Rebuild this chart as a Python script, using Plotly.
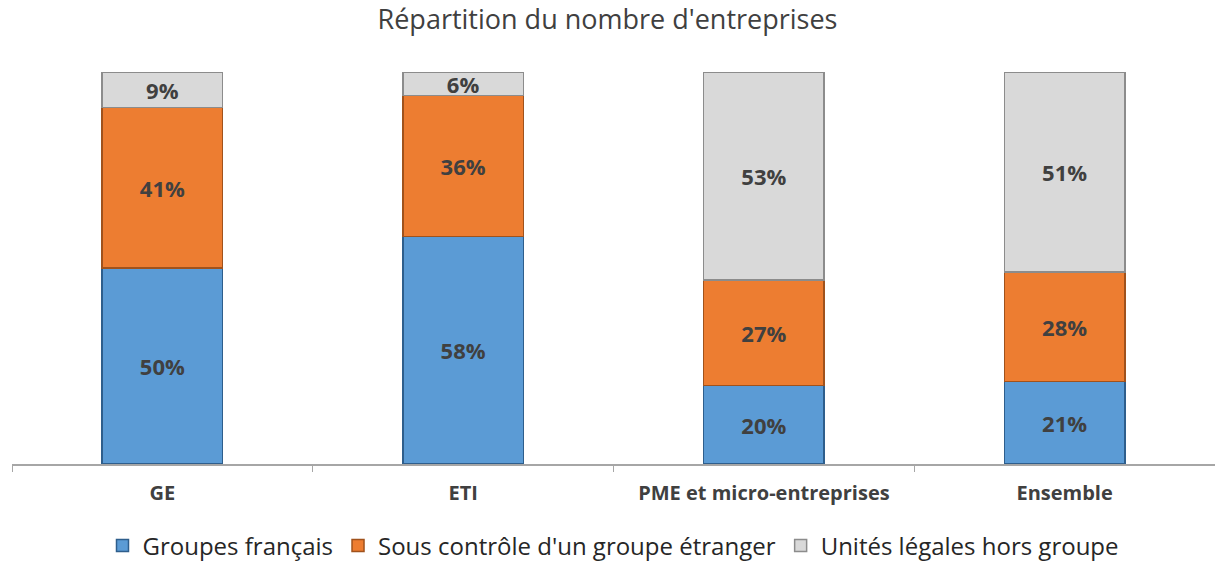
import plotly.graph_objects as go

categories = ["GE", "ETI", "PME et micro-entreprises", "Ensemble"]
series_names = ["Groupes français", "Sous contrôle d'un groupe étranger", "Unités légales hors groupe"]
groupes_francais = [50, 58, 20, 21]
controle_etranger = [41, 36, 27, 28]
hors_groupe = [9, 6, 53, 51]

fills = ["#5B9BD5", "#ED7D31", "#D9D9D9"]
edges = ["#2E5E8C", "#A0521C", "#8C8C8C"]
FONT = "Open Sans"

fig = go.Figure()
for name, vals, fc, ec in zip(series_names, [groupes_francais, controle_etranger, hors_groupe], fills, edges):
    fig.add_trace(go.Bar(
        x=categories, y=vals, name=name,
        marker=dict(color=fc, line=dict(color=ec, width=1.5)),
        text=[f"{v}%" for v in vals], textposition="inside",
        insidetextanchor="middle", constraintext="none",
        textfont=dict(family=FONT, size=22, color="#404040", weight="bold"),
        hoverinfo="skip",
    ))

fig.update_layout(
    barmode="stack", bargap=0.6,
    width=1215, height=562,
    margin=dict(l=12, r=0, t=72, b=98, autoexpand=False),
    paper_bgcolor="white", plot_bgcolor="white",
    title=dict(text="Répartition du nombre d'entreprises", x=0.5, xanchor="center",
               y=1 - 20 / 562, yanchor="middle", yref="container",
               font=dict(family=FONT, size=27, color="#404040")),
    showlegend=True,
    legend=dict(orientation="h", x=0.5, xanchor="center", y=1 - 546 / 562, yanchor="middle",
                yref="container",
                font=dict(family=FONT, size=24, color="#262626"), traceorder="normal"),
    font=dict(family=FONT),
)
fig.update_xaxes(
    showline=True, linecolor="#A6A6A6", linewidth=1.5,
    ticks="outside", tickson="boundaries", ticklen=6, tickcolor="#A6A6A6",
    tickfont=dict(family=FONT, size=20, color="#404040", weight="bold"),
    ticklabelstandoff=10,
    range=[-0.5, 3.5], showgrid=False,
)
fig.update_yaxes(range=[0, 100], visible=False, showgrid=False)

fig.write_html("out.html", config={"displayModeBar": False},
               post_script="document.body.style.margin='0px';document.body.style.overflow='hidden';")
